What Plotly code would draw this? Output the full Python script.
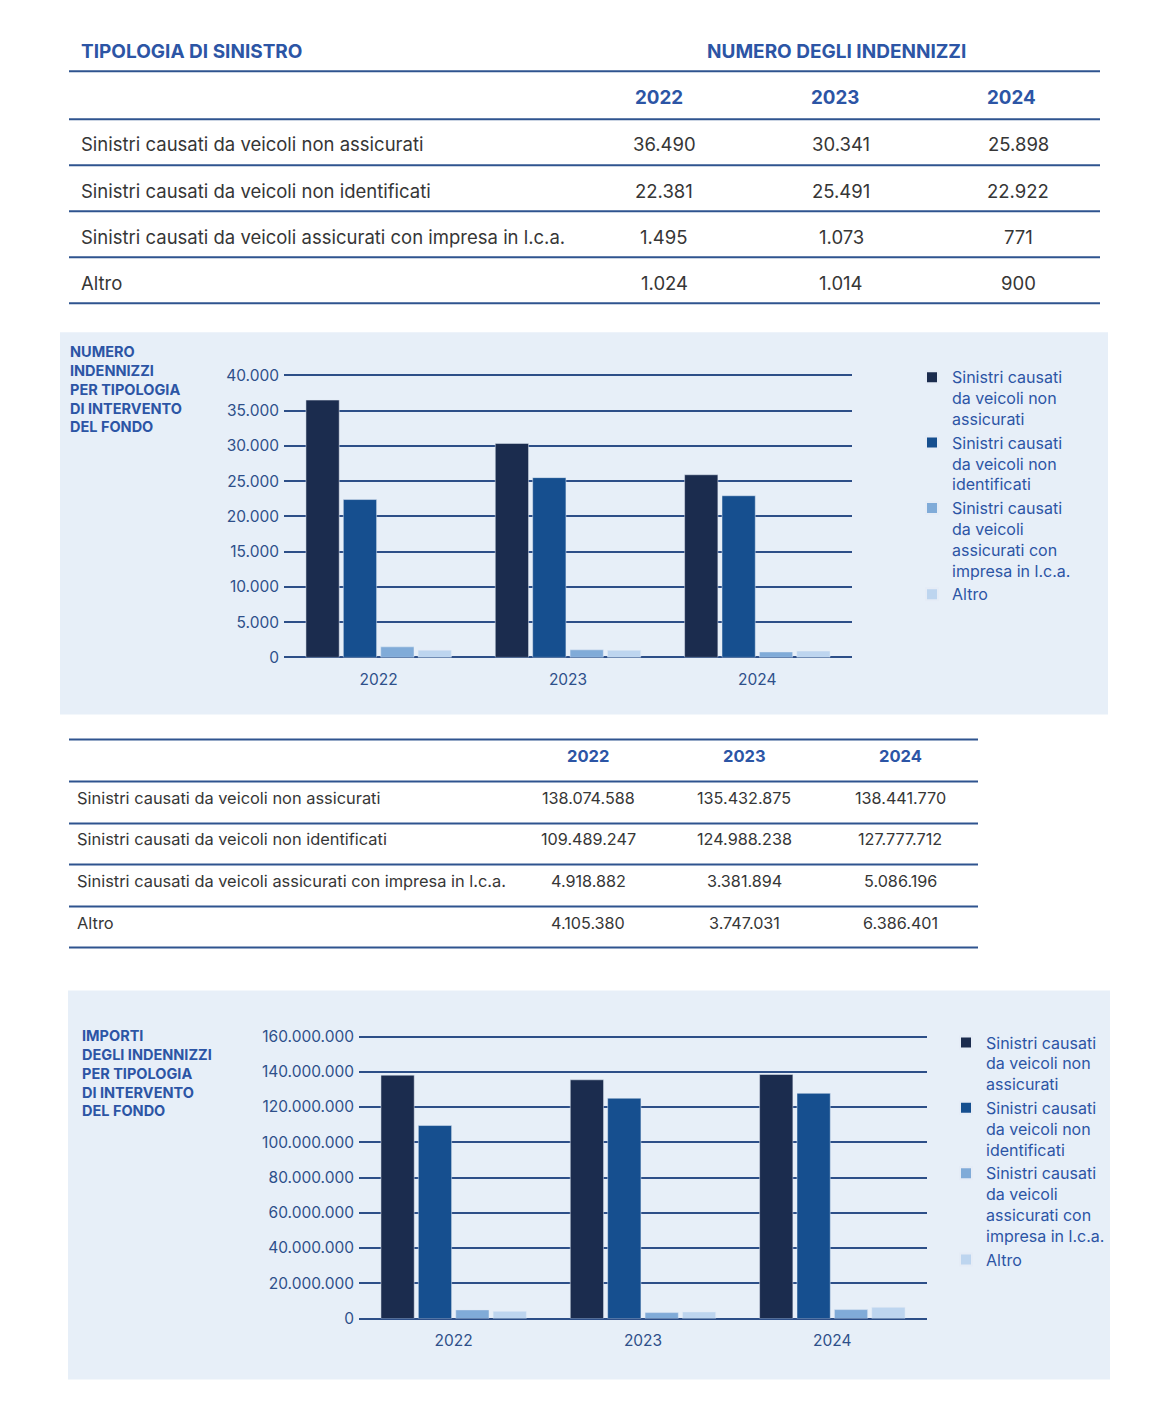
import plotly.graph_objects as go

W, H = 1170, 1425

years = ["2022", "2023", "2024"]
categories = [
    "Sinistri causati da veicoli non assicurati",
    "Sinistri causati da veicoli non identificati",
    "Sinistri causati da veicoli assicurati con impresa in l.c.a.",
    "Altro",
]
legend_names = [
    "Sinistri causati<br>da veicoli non<br>assicurati",
    "Sinistri causati<br>da veicoli non<br>identificati",
    "Sinistri causati<br>da veicoli<br>assicurati con<br>impresa in l.c.a.",
    "Altro",
]
num_non_assicurati = [36490, 30341, 25898]
num_non_identificati = [22381, 25491, 22922]
num_lca = [1495, 1073, 771]
num_altro = [1024, 1014, 900]
numero_series = [num_non_assicurati, num_non_identificati, num_lca, num_altro]

imp_non_assicurati = [138074588, 135432875, 138441770]
imp_non_identificati = [109489247, 124988238, 127777712]
imp_lca = [4918882, 3381894, 5086196]
imp_altro = [4105380, 3747031, 6386401]
importi_series = [imp_non_assicurati, imp_non_identificati, imp_lca, imp_altro]

table1_title_left = "TIPOLOGIA DI SINISTRO"
table1_title_right = "NUMERO DEGLI INDENNIZZI"
chart1_title = "NUMERO<br>INDENNIZZI<br>PER TIPOLOGIA<br>DI INTERVENTO<br>DEL FONDO"
chart2_title = "IMPORTI<br>DEGLI INDENNIZZI<br>PER TIPOLOGIA<br>DI INTERVENTO<br>DEL FONDO"

colors = ["#1b2c4e", "#164f8f", "#80abd8", "#bdd5ef"]
BLUE_TXT = "#2c55a5"
LINE = "#2f548f"
GRID = "#2d4f88"
PANEL = "#e7eff8"
BODY = "#363636"
FONT = "Inter"


def px(x):
    return (x - 8) / W


def py(y):
    yin = (y - 15.8) / 0.9885
    return 1 - yin / H


def fmt(v):
    return f"{v:,}".replace(",", ".")


fig = go.Figure()
shapes = []
annotations = []


def ann(x, y, text, size, color, bold=False, xanchor="left", yanchor="middle", align="left"):
    if xanchor == "left":
        x = x - 2
    annotations.append(dict(
        x=px(x), y=py(y), xref="paper", yref="paper", text=f"<b>{text}</b>" if bold else text,
        showarrow=False, xanchor=xanchor, yanchor=yanchor, align=align,
        font=dict(family=FONT, size=size, color=color)))


def hline(x0, x1, y, color=LINE, width=2):
    shapes.append(dict(type="line", xref="paper", yref="paper", x0=px(x0), x1=px(x1),
                       y0=py(y), y1=py(y), line=dict(color=color, width=width), layer="above"))


# ---------- Table 1 ----------
ann(81, 52, table1_title_left, 19, BLUE_TXT, bold=True)
ann(836, 52, table1_title_right, 19, BLUE_TXT, bold=True, xanchor="center")
for yl in [72, 120, 166, 212, 258, 304]:
    hline(69, 1100, yl)
t1_head = [659, 835, 1012]
t1_cols = [664, 841, 1018]
for i, yr in enumerate(years):
    ann(t1_head[i], 98, yr, 18.8, BLUE_TXT, bold=True, xanchor="center")
t1_rows = [145, 192, 238, 284]
for r, (cat, ser) in enumerate(zip(categories, numero_series)):
    ann(81, t1_rows[r], cat, 18.5, BODY)
    for i in range(3):
        ann(t1_cols[i], t1_rows[r], fmt(ser[i]), 18.5, BODY, xanchor="center")

# ---------- Table 2 ----------
for yl in [740, 782, 824, 865, 907, 948]:
    hline(69, 978, yl)
t2_cols = [588, 744, 900]
for i, yr in enumerate(years):
    ann(t2_cols[i], 757, yr, 16.5, BLUE_TXT, bold=True, xanchor="center")
t2_rows = [799, 840, 882, 924]
for r, (cat, ser) in enumerate(zip(categories, importi_series)):
    ann(77, t2_rows[r], cat, 16.4, BODY)
    for i in range(3):
        ann(t2_cols[i], t2_rows[r], fmt(ser[i]), 16.2, BODY, xanchor="center")

# ---------- Panels ----------
shapes.append(dict(type="rect", xref="paper", yref="paper", x0=px(60), x1=px(1108), y0=py(715), y1=py(333),
                   fillcolor=PANEL, line=dict(width=0), layer="below"))
shapes.append(dict(type="rect", xref="paper", yref="paper", x0=px(68), x1=px(1110), y0=py(1380), y1=py(991),
                   fillcolor=PANEL, line=dict(width=0), layer="below"))
annotations.append(dict(x=px(68), y=py(342), xref="paper", yref="paper", text=f"<b>{chart1_title}</b>",
                        showarrow=False, xanchor="left", yanchor="top", align="left",
                        font=dict(family=FONT, size=14.5, color=BLUE_TXT)))
annotations.append(dict(x=px(80), y=py(1026), xref="paper", yref="paper", text=f"<b>{chart2_title}</b>",
                        showarrow=False, xanchor="left", yanchor="top", align="left",
                        font=dict(family=FONT, size=14.5, color=BLUE_TXT)))

# ---------- Bars ----------
for k in range(4):
    fig.add_trace(go.Bar(x=years, y=numero_series[k], name=legend_names[k], marker_color=colors[k],
                         xaxis="x", yaxis="y", legend="legend", hoverinfo="y"))
for k in range(4):
    fig.add_trace(go.Bar(x=years, y=importi_series[k], name=legend_names[k], marker_color=colors[k],
                         xaxis="x2", yaxis="y2", legend="legend2", hoverinfo="y"))

axis_font = dict(family=FONT, size=15.5, color="#2e4f8a")
common_y = dict(showgrid=True, gridcolor=GRID, gridwidth=2, zeroline=True, zerolinecolor=GRID,
                zerolinewidth=2, tickformat=",d", tickfont=axis_font, showline=False, ticks="",
                ticklabelstandoff=4, fixedrange=True)
common_x = dict(type="category", tickfont=axis_font, showline=False, ticks="", showgrid=False,
                ticklabelstandoff=11)

legend_common = dict(xanchor="left", yanchor="top", bgcolor="rgba(0,0,0,0)", valign="top",
                     font=dict(family=FONT, size=16, color=BLUE_TXT), itemsizing="constant",
                     itemwidth=30)

fig.update_layout(
    width=W, height=H, margin=dict(l=0, r=0, t=0, b=0),
    paper_bgcolor="white", plot_bgcolor="rgba(0,0,0,0)",
    separators=",.",
    barmode="group", bargap=0.21, bargroupgap=0.11,
    showlegend=True,
    xaxis=dict(domain=[px(284), px(852)], anchor="y", **common_x),
    yaxis=dict(domain=[py(658), py(373.2)], anchor="x", range=[0, 40400], dtick=5000, **common_y),
    xaxis2=dict(domain=[px(359), px(927)], anchor="y2", **common_x),
    yaxis2=dict(domain=[py(1319), py(1034.2)], anchor="x2", range=[0, 161600000], dtick=20000000, **common_y),
    legend=dict(x=px(912), y=py(361), **legend_common),
    legend2=dict(x=px(946), y=py(1026), **legend_common),
    shapes=shapes, annotations=annotations,
)

fig.write_html("out.html")
